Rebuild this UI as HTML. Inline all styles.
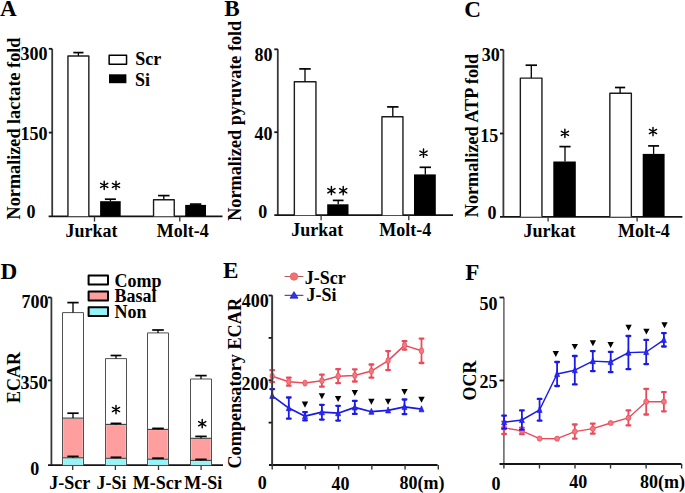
<!DOCTYPE html>
<html><head><meta charset="utf-8"><style>
html,body{margin:0;padding:0;background:#fff;width:685px;height:493px;overflow:hidden}
svg{display:block}
text{font-family:"Liberation Serif",serif;font-weight:bold;fill:#000}
</style></head><body>
<svg width="685" height="493" viewBox="0 0 685 493">
<rect x="0" y="0" width="685" height="493" fill="#fff"/>
<text x="0" y="15.5" font-size="23.2" text-anchor="start" >A</text>
<line x1="52.2" y1="48.8" x2="52.2" y2="216.3" stroke="#383838" stroke-width="1.8"/>
<line x1="48.6" y1="216.3" x2="222.5" y2="216.3" stroke="#141414" stroke-width="1.8"/>
<line x1="48.8" y1="48.8" x2="52.2" y2="48.8" stroke="#141414" stroke-width="1.8"/>
<line x1="48.8" y1="132.6" x2="52.2" y2="132.6" stroke="#141414" stroke-width="1.8"/>
<line x1="94.5" y1="216.3" x2="94.5" y2="221.5" stroke="#333" stroke-width="1.3"/>
<line x1="179.8" y1="216.3" x2="179.8" y2="221.5" stroke="#333" stroke-width="1.3"/>
<text x="47.6" y="59.6" font-size="18" text-anchor="end" >300</text>
<text x="47.6" y="140.3" font-size="18" text-anchor="end" >150</text>
<text x="35.4" y="218.0" font-size="18" text-anchor="end" >0</text>
<text transform="translate(20.3,219.4) rotate(-90)" font-size="18.2" text-anchor="start">Normalized lactate fold</text>
<path d="M67.94999999999999,216.3 V56.0 H88.85000000000001 V216.3" fill="#fff" stroke="#1c1c1c" stroke-width="1.4" stroke-linejoin="round"/>
<line x1="78.4" y1="52.6" x2="78.4" y2="55.8" stroke="#000" stroke-width="1.3"/>
<line x1="73.30000000000001" y1="52.6" x2="83.5" y2="52.6" stroke="#000" stroke-width="1.7"/>
<rect x="100.1" y="201.2" width="20.60000000000001" height="15.100000000000023" fill="#000" stroke="#000" stroke-width="0" stroke-linejoin="round"/>
<line x1="110.4" y1="199.2" x2="110.4" y2="201.2" stroke="#000" stroke-width="1.3"/>
<line x1="104.9" y1="199.2" x2="115.9" y2="199.2" stroke="#000" stroke-width="1.7"/>
<path d="M153.54999999999998,216.3 V199.7 H174.25 V216.3" fill="#fff" stroke="#1c1c1c" stroke-width="1.4" stroke-linejoin="round"/>
<line x1="163.8" y1="195.6" x2="163.8" y2="199.5" stroke="#000" stroke-width="1.3"/>
<line x1="158.05" y1="195.6" x2="169.55" y2="195.6" stroke="#000" stroke-width="1.7"/>
<rect x="185.2" y="204.9" width="20.80000000000001" height="11.400000000000006" fill="#000" stroke="#000" stroke-width="0" stroke-linejoin="round"/>
<line x1="195.6" y1="204.1" x2="195.6" y2="204.9" stroke="#000" stroke-width="1.3"/>
<line x1="189.9" y1="204.1" x2="201.29999999999998" y2="204.1" stroke="#000" stroke-width="1.7"/>
<path d="M104.20,181.25L104.20,189.55M100.61,183.33L107.79,187.47M100.61,187.47L107.79,183.33" stroke="#000" stroke-width="1.45" stroke-linecap="round" fill="none"/>
<path d="M116.00,181.25L116.00,189.55M112.41,183.33L119.59,187.47M112.41,187.47L119.59,183.33" stroke="#000" stroke-width="1.45" stroke-linecap="round" fill="none"/>
<rect x="109.15" y="55.35" width="17.39999999999999" height="8.899999999999999" fill="#fff" stroke="#000" stroke-width="1.5" stroke-linejoin="round"/>
<rect x="109" y="74.3" width="17.400000000000006" height="8.900000000000006" fill="#000" stroke="#000" stroke-width="0" stroke-linejoin="round"/>
<text x="135.2" y="65" font-size="18" text-anchor="start" >Scr</text>
<text x="135.0" y="85.7" font-size="18" text-anchor="start" >Si</text>
<text x="65.4" y="236.6" font-size="18" text-anchor="start" >Jurkat</text>
<text x="156.8" y="236.6" font-size="18" text-anchor="start" >Molt-4</text>
<text x="224.2" y="15.5" font-size="23.2" text-anchor="start" >B</text>
<line x1="277.8" y1="49.3" x2="277.8" y2="215.2" stroke="#383838" stroke-width="1.8"/>
<line x1="274.3" y1="215.2" x2="453" y2="215.2" stroke="#141414" stroke-width="1.8"/>
<line x1="274.3" y1="49.3" x2="277.8" y2="49.3" stroke="#141414" stroke-width="1.8"/>
<line x1="274.3" y1="132.2" x2="277.8" y2="132.2" stroke="#141414" stroke-width="1.8"/>
<line x1="321.1" y1="215.2" x2="321.1" y2="220.2" stroke="#333" stroke-width="1.3"/>
<line x1="408.8" y1="215.2" x2="408.8" y2="220.2" stroke="#333" stroke-width="1.3"/>
<text x="272.4" y="60.8" font-size="18" text-anchor="end" >80</text>
<text x="272.4" y="140.0" font-size="18" text-anchor="end" >40</text>
<text x="267.2" y="218.0" font-size="18" text-anchor="end" >0</text>
<text transform="translate(240.8,220.8) rotate(-90)" font-size="18.2" text-anchor="start">Normalized pyruvate fold</text>
<path d="M294.35,215.2 V81.7 H315.95 V215.2" fill="#fff" stroke="#1c1c1c" stroke-width="1.4" stroke-linejoin="round"/>
<line x1="305.0" y1="68.9" x2="305.0" y2="81.5" stroke="#000" stroke-width="1.3"/>
<line x1="299.25" y1="68.9" x2="310.75" y2="68.9" stroke="#000" stroke-width="1.7"/>
<rect x="327.2" y="204.3" width="21.30000000000001" height="10.899999999999977" fill="#000" stroke="#000" stroke-width="0" stroke-linejoin="round"/>
<line x1="338.2" y1="200.4" x2="338.2" y2="204.3" stroke="#000" stroke-width="1.3"/>
<line x1="332.84999999999997" y1="200.4" x2="343.55" y2="200.4" stroke="#000" stroke-width="1.7"/>
<path d="M381.95000000000005,215.2 V116.8 H402.95 V215.2" fill="#fff" stroke="#1c1c1c" stroke-width="1.4" stroke-linejoin="round"/>
<line x1="392.8" y1="106.9" x2="392.8" y2="116.6" stroke="#000" stroke-width="1.3"/>
<line x1="387.1" y1="106.9" x2="398.5" y2="106.9" stroke="#000" stroke-width="1.7"/>
<rect x="414.0" y="174.4" width="21.80000000000001" height="40.79999999999998" fill="#000" stroke="#000" stroke-width="0" stroke-linejoin="round"/>
<line x1="425.3" y1="167.3" x2="425.3" y2="174.4" stroke="#000" stroke-width="1.3"/>
<line x1="419.6" y1="167.3" x2="431.0" y2="167.3" stroke="#000" stroke-width="1.7"/>
<path d="M331.40,186.55L331.40,194.85M327.81,188.62L334.99,192.77M327.81,192.77L334.99,188.62" stroke="#000" stroke-width="1.45" stroke-linecap="round" fill="none"/>
<path d="M343.20,186.55L343.20,194.85M339.61,188.62L346.79,192.77M339.61,192.77L346.79,188.62" stroke="#000" stroke-width="1.45" stroke-linecap="round" fill="none"/>
<path d="M423.50,149.05L423.50,157.35M419.91,151.12L427.09,155.27M419.91,155.27L427.09,151.12" stroke="#000" stroke-width="1.45" stroke-linecap="round" fill="none"/>
<text x="291.3" y="236.2" font-size="18" text-anchor="start" >Jurkat</text>
<text x="379.3" y="236.2" font-size="18" text-anchor="start" >Molt-4</text>
<text x="464.3" y="17.0" font-size="23.2" text-anchor="start" >C</text>
<line x1="503.4" y1="49.8" x2="503.4" y2="216.8" stroke="#383838" stroke-width="1.8"/>
<line x1="500.0" y1="216.8" x2="682.4" y2="216.8" stroke="#141414" stroke-width="1.8"/>
<line x1="500.0" y1="49.8" x2="503.4" y2="49.8" stroke="#141414" stroke-width="1.8"/>
<line x1="500.0" y1="133.5" x2="503.4" y2="133.5" stroke="#141414" stroke-width="1.8"/>
<line x1="548.1" y1="216.8" x2="548.1" y2="221.5" stroke="#333" stroke-width="1.3"/>
<line x1="637.1" y1="216.8" x2="637.1" y2="221.5" stroke="#333" stroke-width="1.3"/>
<text x="499.8" y="61.0" font-size="18" text-anchor="end" >30</text>
<text x="498.2" y="142.0" font-size="18" text-anchor="end" >15</text>
<text x="496.5" y="219.0" font-size="18" text-anchor="end" >0</text>
<text transform="translate(477.8,217.2) rotate(-90)" font-size="18.2" text-anchor="start">Normalized ATP fold</text>
<path d="M520.35,216.8 V78.10000000000001 H541.9499999999999 V216.8" fill="#fff" stroke="#1c1c1c" stroke-width="1.4" stroke-linejoin="round"/>
<line x1="531.3" y1="65.2" x2="531.3" y2="77.9" stroke="#000" stroke-width="1.3"/>
<line x1="525.5999999999999" y1="65.2" x2="537.0" y2="65.2" stroke="#000" stroke-width="1.7"/>
<rect x="553.3" y="161.5" width="22.5" height="55.30000000000001" fill="#000" stroke="#000" stroke-width="0" stroke-linejoin="round"/>
<line x1="565.0" y1="146.6" x2="565.0" y2="161.5" stroke="#000" stroke-width="1.3"/>
<line x1="559.4" y1="146.6" x2="570.6" y2="146.6" stroke="#000" stroke-width="1.7"/>
<path d="M609.85,216.8 V93.2 H631.35 V216.8" fill="#fff" stroke="#1c1c1c" stroke-width="1.4" stroke-linejoin="round"/>
<line x1="620.1" y1="87.5" x2="620.1" y2="93.0" stroke="#000" stroke-width="1.3"/>
<line x1="615.0" y1="87.5" x2="625.2" y2="87.5" stroke="#000" stroke-width="1.7"/>
<rect x="642.7" y="153.9" width="21.899999999999977" height="62.900000000000006" fill="#000" stroke="#000" stroke-width="0" stroke-linejoin="round"/>
<line x1="653.6" y1="145.9" x2="653.6" y2="153.9" stroke="#000" stroke-width="1.3"/>
<line x1="648.15" y1="145.9" x2="659.0500000000001" y2="145.9" stroke="#000" stroke-width="1.7"/>
<path d="M564.90,129.25L564.90,137.55M561.31,131.33L568.49,135.47M561.31,135.47L568.49,131.33" stroke="#000" stroke-width="1.45" stroke-linecap="round" fill="none"/>
<path d="M653.00,127.35L653.00,135.65M649.41,129.43L656.59,133.57M649.41,133.57L656.59,129.43" stroke="#000" stroke-width="1.45" stroke-linecap="round" fill="none"/>
<text x="523.5" y="236.6" font-size="18" text-anchor="start" >Jurkat</text>
<text x="617.9" y="236.6" font-size="18" text-anchor="start" >Molt-4</text>
<text x="0.4" y="279.2" font-size="23.2" text-anchor="start" >D</text>
<line x1="51.4" y1="297.5" x2="51.4" y2="465.2" stroke="#383838" stroke-width="1.8"/>
<line x1="48.0" y1="465.2" x2="223.0" y2="465.2" stroke="#141414" stroke-width="1.8"/>
<line x1="48.0" y1="297.5" x2="51.4" y2="297.5" stroke="#141414" stroke-width="1.8"/>
<line x1="48.0" y1="380.4" x2="51.4" y2="380.4" stroke="#141414" stroke-width="1.8"/>
<line x1="72.7" y1="465.2" x2="72.7" y2="470.0" stroke="#333" stroke-width="1.3"/>
<line x1="115.4" y1="465.2" x2="115.4" y2="470.0" stroke="#333" stroke-width="1.3"/>
<line x1="158.5" y1="465.2" x2="158.5" y2="470.0" stroke="#333" stroke-width="1.3"/>
<line x1="201.1" y1="465.2" x2="201.1" y2="470.0" stroke="#333" stroke-width="1.3"/>
<text x="48.4" y="308.4" font-size="18" text-anchor="end" >700</text>
<text x="47.5" y="389.2" font-size="18" text-anchor="end" >350</text>
<text x="39.2" y="474.8" font-size="18" text-anchor="end" >0</text>
<text transform="translate(20.0,403.1) rotate(-90)" font-size="18" text-anchor="start">ECAR</text>
<rect x="62.5" y="312.6" width="21.0" height="152.59999999999997" fill="#fff" stroke="#505050" stroke-width="1" stroke-linejoin="round"/>
<rect x="63.2" y="418.8" width="19.6" height="38.499999999999986" fill="#ff9e9e"/>
<rect x="63.2" y="458.5" width="19.6" height="6.199999999999977" fill="#94f5f9"/>
<line x1="62.5" y1="418.1" x2="83.5" y2="418.1" stroke="#3a3a3a" stroke-width="1.1"/>
<line x1="62.5" y1="457.8" x2="83.5" y2="457.8" stroke="#3a3a3a" stroke-width="1.1"/>
<line x1="73.0" y1="302.6" x2="73.0" y2="312.6" stroke="#000" stroke-width="1.3"/>
<line x1="67.35" y1="302.6" x2="78.65" y2="302.6" stroke="#000" stroke-width="1.7"/>
<line x1="73.0" y1="413.2" x2="73.0" y2="418.1" stroke="#000" stroke-width="1.3"/>
<line x1="67.35" y1="413.2" x2="78.65" y2="413.2" stroke="#000" stroke-width="1.7"/>
<line x1="73.0" y1="456.4" x2="73.0" y2="457.8" stroke="#000" stroke-width="1.3"/>
<line x1="67.35" y1="456.4" x2="78.65" y2="456.4" stroke="#000" stroke-width="1.7"/>
<rect x="105.5" y="358.6" width="21.0" height="106.59999999999997" fill="#fff" stroke="#505050" stroke-width="1" stroke-linejoin="round"/>
<rect x="106.2" y="425.09999999999997" width="19.6" height="32.70000000000003" fill="#ff9e9e"/>
<rect x="106.2" y="459.0" width="19.6" height="5.699999999999977" fill="#94f5f9"/>
<line x1="105.5" y1="424.4" x2="126.5" y2="424.4" stroke="#3a3a3a" stroke-width="1.1"/>
<line x1="105.5" y1="458.3" x2="126.5" y2="458.3" stroke="#3a3a3a" stroke-width="1.1"/>
<line x1="116.0" y1="355.5" x2="116.0" y2="358.6" stroke="#000" stroke-width="1.3"/>
<line x1="110.6" y1="355.5" x2="121.4" y2="355.5" stroke="#000" stroke-width="1.7"/>
<line x1="116.0" y1="423.4" x2="116.0" y2="424.4" stroke="#000" stroke-width="1.3"/>
<line x1="110.6" y1="423.4" x2="121.4" y2="423.4" stroke="#000" stroke-width="1.7"/>
<line x1="116.0" y1="457.3" x2="116.0" y2="458.3" stroke="#000" stroke-width="1.3"/>
<line x1="110.6" y1="457.3" x2="121.4" y2="457.3" stroke="#000" stroke-width="1.7"/>
<rect x="147.5" y="332.9" width="21.0" height="132.3" fill="#fff" stroke="#505050" stroke-width="1" stroke-linejoin="round"/>
<rect x="148.2" y="430.09999999999997" width="19.6" height="28.600000000000012" fill="#ff9e9e"/>
<rect x="148.2" y="459.9" width="19.6" height="4.8" fill="#94f5f9"/>
<line x1="147.5" y1="429.4" x2="168.5" y2="429.4" stroke="#3a3a3a" stroke-width="1.1"/>
<line x1="147.5" y1="459.2" x2="168.5" y2="459.2" stroke="#3a3a3a" stroke-width="1.1"/>
<line x1="158.0" y1="330.0" x2="158.0" y2="332.9" stroke="#000" stroke-width="1.3"/>
<line x1="152.2" y1="330.0" x2="163.8" y2="330.0" stroke="#000" stroke-width="1.7"/>
<line x1="158.0" y1="428.4" x2="158.0" y2="429.4" stroke="#000" stroke-width="1.3"/>
<line x1="152.2" y1="428.4" x2="163.8" y2="428.4" stroke="#000" stroke-width="1.7"/>
<line x1="158.0" y1="458.2" x2="158.0" y2="459.2" stroke="#000" stroke-width="1.3"/>
<line x1="152.2" y1="458.2" x2="163.8" y2="458.2" stroke="#000" stroke-width="1.7"/>
<rect x="190.5" y="379.0" width="21.0" height="86.19999999999999" fill="#fff" stroke="#505050" stroke-width="1" stroke-linejoin="round"/>
<rect x="191.2" y="439.0" width="19.6" height="20.899999999999967" fill="#ff9e9e"/>
<rect x="191.2" y="461.09999999999997" width="19.6" height="3.600000000000011" fill="#94f5f9"/>
<line x1="190.5" y1="438.3" x2="211.5" y2="438.3" stroke="#3a3a3a" stroke-width="1.1"/>
<line x1="190.5" y1="460.4" x2="211.5" y2="460.4" stroke="#3a3a3a" stroke-width="1.1"/>
<line x1="201.0" y1="375.6" x2="201.0" y2="379.0" stroke="#000" stroke-width="1.3"/>
<line x1="195.3" y1="375.6" x2="206.7" y2="375.6" stroke="#000" stroke-width="1.7"/>
<line x1="201.0" y1="436.4" x2="201.0" y2="438.3" stroke="#000" stroke-width="1.3"/>
<line x1="195.3" y1="436.4" x2="206.7" y2="436.4" stroke="#000" stroke-width="1.7"/>
<line x1="201.0" y1="459.4" x2="201.0" y2="460.4" stroke="#000" stroke-width="1.3"/>
<line x1="195.3" y1="459.4" x2="206.7" y2="459.4" stroke="#000" stroke-width="1.7"/>
<path d="M116.00,405.35L116.00,413.65M112.41,407.43L119.59,411.57M112.41,411.57L119.59,407.43" stroke="#000" stroke-width="1.45" stroke-linecap="round" fill="none"/>
<path d="M202.20,419.55L202.20,427.85M198.61,421.62L205.79,425.77M198.61,425.77L205.79,421.62" stroke="#000" stroke-width="1.45" stroke-linecap="round" fill="none"/>
<rect x="88.6" y="275.5" width="19.400000000000006" height="8.9" fill="#fff" stroke="#000" stroke-width="2" stroke-linejoin="round"/>
<rect x="88.6" y="291.6" width="19.400000000000006" height="8.9" fill="#ff9e9e" stroke="#000" stroke-width="2" stroke-linejoin="round"/>
<rect x="88.6" y="307.2" width="19.400000000000006" height="8.9" fill="#94f5f9" stroke="#000" stroke-width="2" stroke-linejoin="round"/>
<text x="114.6" y="287.0" font-size="18" text-anchor="start" >Comp</text>
<text x="114.6" y="302.1" font-size="18" text-anchor="start" >Basal</text>
<text x="114.6" y="317.8" font-size="18" text-anchor="start" >Non</text>
<text x="49.3" y="488.6" font-size="18" text-anchor="start" >J-Scr</text>
<text x="96.6" y="489.2" font-size="18" text-anchor="start" >J-Si</text>
<text x="132.8" y="489.0" font-size="18" text-anchor="start" >M-Scr</text>
<text x="184.2" y="489.0" font-size="18" text-anchor="start" >M-Si</text>
<text x="223.0" y="277.6" font-size="23.2" text-anchor="start" >E</text>
<line x1="272.2" y1="295.5" x2="272.2" y2="465.0" stroke="#383838" stroke-width="1.8"/>
<line x1="269.0" y1="465.0" x2="437.6" y2="465.0" stroke="#141414" stroke-width="1.8"/>
<line x1="268.6" y1="295.5" x2="272.2" y2="295.5" stroke="#141414" stroke-width="1.8"/>
<line x1="268.6" y1="337.875" x2="272.2" y2="337.875" stroke="#141414" stroke-width="1.8"/>
<line x1="268.6" y1="380.25" x2="272.2" y2="380.25" stroke="#141414" stroke-width="1.8"/>
<line x1="268.6" y1="422.625" x2="272.2" y2="422.625" stroke="#141414" stroke-width="1.8"/>
<line x1="305.41999999999996" y1="465.0" x2="305.41999999999996" y2="469.5" stroke="#333" stroke-width="1.4"/>
<line x1="338.64" y1="465.0" x2="338.64" y2="469.5" stroke="#333" stroke-width="1.4"/>
<line x1="371.86" y1="465.0" x2="371.86" y2="469.5" stroke="#333" stroke-width="1.4"/>
<line x1="405.08" y1="465.0" x2="405.08" y2="469.5" stroke="#333" stroke-width="1.4"/>
<line x1="438.29999999999995" y1="465.0" x2="438.29999999999995" y2="469.5" stroke="#333" stroke-width="1.4"/>
<line x1="272.2" y1="465.0" x2="272.2" y2="469.5" stroke="#333" stroke-width="1.4"/>
<text x="268.7" y="307.4" font-size="18" text-anchor="end" >400</text>
<text x="268.6" y="389.5" font-size="18" text-anchor="end" >200</text>
<text x="266.7" y="489.0" font-size="18" text-anchor="end" >0</text>
<text x="331.6" y="489.5" font-size="18" text-anchor="start" >40</text>
<text x="399.6" y="489.3" font-size="18" text-anchor="start" >80(m)</text>
<text transform="translate(240.7,468.6) rotate(-90)" font-size="18.24" text-anchor="start">Compensatory ECAR</text>
<polyline points="272.2,376.2 288.8,381.7 305.0,383.1 321.9,380.7 338.1,376.2 354.8,375.4 371.4,371.1 388.1,360.6 404.5,345.4 421.5,350.8" fill="none" stroke="#ea4b5a" stroke-width="1.5" stroke-linejoin="round"/>
<line x1="272.2" y1="370.2" x2="272.2" y2="382.2" stroke="#ea4b5a" stroke-width="1.8"/>
<path d="M270.34999999999997,370.2H274.05M270.34999999999997,382.2H274.05" stroke="#ea4b5a" stroke-width="2.3" stroke-linecap="round"/>
<ellipse cx="272.2" cy="376.2" rx="2.2" ry="3.1" fill="#f07a7e" stroke="#ea4b5a" stroke-width="0.7"/>
<line x1="288.8" y1="377.7" x2="288.8" y2="385.7" stroke="#ea4b5a" stroke-width="1.8"/>
<path d="M286.95,377.7H290.65000000000003M286.95,385.7H290.65000000000003" stroke="#ea4b5a" stroke-width="2.3" stroke-linecap="round"/>
<ellipse cx="288.8" cy="381.7" rx="2.2" ry="3.1" fill="#f07a7e" stroke="#ea4b5a" stroke-width="0.7"/>
<ellipse cx="305.0" cy="383.1" rx="2.2" ry="3.1" fill="#f07a7e" stroke="#ea4b5a" stroke-width="0.7"/>
<line x1="321.9" y1="374.7" x2="321.9" y2="386.7" stroke="#ea4b5a" stroke-width="1.8"/>
<path d="M320.04999999999995,374.7H323.75M320.04999999999995,386.7H323.75" stroke="#ea4b5a" stroke-width="2.3" stroke-linecap="round"/>
<ellipse cx="321.9" cy="380.7" rx="2.2" ry="3.1" fill="#f07a7e" stroke="#ea4b5a" stroke-width="0.7"/>
<line x1="338.1" y1="369.2" x2="338.1" y2="383.2" stroke="#ea4b5a" stroke-width="1.8"/>
<path d="M336.25,369.2H339.95000000000005M336.25,383.2H339.95000000000005" stroke="#ea4b5a" stroke-width="2.3" stroke-linecap="round"/>
<ellipse cx="338.1" cy="376.2" rx="2.2" ry="3.1" fill="#f07a7e" stroke="#ea4b5a" stroke-width="0.7"/>
<line x1="354.8" y1="369.29999999999995" x2="354.8" y2="381.5" stroke="#ea4b5a" stroke-width="1.8"/>
<path d="M352.95,369.29999999999995H356.65000000000003M352.95,381.5H356.65000000000003" stroke="#ea4b5a" stroke-width="2.3" stroke-linecap="round"/>
<ellipse cx="354.8" cy="375.4" rx="2.2" ry="3.1" fill="#f07a7e" stroke="#ea4b5a" stroke-width="0.7"/>
<line x1="371.4" y1="364.5" x2="371.4" y2="377.70000000000005" stroke="#ea4b5a" stroke-width="1.8"/>
<path d="M369.54999999999995,364.5H373.25M369.54999999999995,377.70000000000005H373.25" stroke="#ea4b5a" stroke-width="2.3" stroke-linecap="round"/>
<ellipse cx="371.4" cy="371.1" rx="2.2" ry="3.1" fill="#f07a7e" stroke="#ea4b5a" stroke-width="0.7"/>
<line x1="388.1" y1="351.1" x2="388.1" y2="370.1" stroke="#ea4b5a" stroke-width="1.8"/>
<path d="M386.25,351.1H389.95000000000005M386.25,370.1H389.95000000000005" stroke="#ea4b5a" stroke-width="2.3" stroke-linecap="round"/>
<ellipse cx="388.1" cy="360.6" rx="2.2" ry="3.1" fill="#f07a7e" stroke="#ea4b5a" stroke-width="0.7"/>
<line x1="404.5" y1="341.2" x2="404.5" y2="349.59999999999997" stroke="#ea4b5a" stroke-width="1.8"/>
<path d="M402.65,341.2H406.35M402.65,349.59999999999997H406.35" stroke="#ea4b5a" stroke-width="2.3" stroke-linecap="round"/>
<ellipse cx="404.5" cy="345.4" rx="2.2" ry="3.1" fill="#f07a7e" stroke="#ea4b5a" stroke-width="0.7"/>
<line x1="421.5" y1="338.6" x2="421.5" y2="363.0" stroke="#ea4b5a" stroke-width="1.8"/>
<path d="M419.65,338.6H423.35M419.65,363.0H423.35" stroke="#ea4b5a" stroke-width="2.3" stroke-linecap="round"/>
<ellipse cx="421.5" cy="350.8" rx="2.2" ry="3.1" fill="#f07a7e" stroke="#ea4b5a" stroke-width="0.7"/>
<polyline points="272.2,395.9 288.8,408.1 305.0,416.2 321.9,412.2 338.1,413.2 354.8,407.4 371.4,411.7 388.1,410.3 404.5,406.8 421.5,409.2" fill="none" stroke="#1a1ae6" stroke-width="1.7" stroke-linejoin="round"/>
<line x1="272.2" y1="389.2" x2="272.2" y2="395.9" stroke="#1a1ae6" stroke-width="1.8"/>
<path d="M270.34999999999997,389.2H274.05" stroke="#1a1ae6" stroke-width="2.3" stroke-linecap="round"/>
<path d="M272.2,392.5 L274.7,398.5 L269.7,398.5 Z" fill="#2a2af5" stroke="#1a1ae6" stroke-width="0.7"/>
<line x1="288.8" y1="397.5" x2="288.8" y2="418.70000000000005" stroke="#1a1ae6" stroke-width="1.8"/>
<path d="M286.95,397.5H290.65000000000003M286.95,418.70000000000005H290.65000000000003" stroke="#1a1ae6" stroke-width="2.3" stroke-linecap="round"/>
<path d="M288.8,404.70000000000005 L291.3,410.70000000000005 L286.3,410.70000000000005 Z" fill="#2a2af5" stroke="#1a1ae6" stroke-width="0.7"/>
<line x1="305.0" y1="412.09999999999997" x2="305.0" y2="420.3" stroke="#1a1ae6" stroke-width="1.8"/>
<path d="M303.15,412.09999999999997H306.85M303.15,420.3H306.85" stroke="#1a1ae6" stroke-width="2.3" stroke-linecap="round"/>
<path d="M305.0,412.8 L307.5,418.8 L302.5,418.8 Z" fill="#2a2af5" stroke="#1a1ae6" stroke-width="0.7"/>
<line x1="321.9" y1="404.8" x2="321.9" y2="419.59999999999997" stroke="#1a1ae6" stroke-width="1.8"/>
<path d="M320.04999999999995,404.8H323.75M320.04999999999995,419.59999999999997H323.75" stroke="#1a1ae6" stroke-width="2.3" stroke-linecap="round"/>
<path d="M321.9,408.8 L324.4,414.8 L319.4,414.8 Z" fill="#2a2af5" stroke="#1a1ae6" stroke-width="0.7"/>
<line x1="338.1" y1="405.8" x2="338.1" y2="420.59999999999997" stroke="#1a1ae6" stroke-width="1.8"/>
<path d="M336.25,405.8H339.95000000000005M336.25,420.59999999999997H339.95000000000005" stroke="#1a1ae6" stroke-width="2.3" stroke-linecap="round"/>
<path d="M338.1,409.8 L340.6,415.8 L335.6,415.8 Z" fill="#2a2af5" stroke="#1a1ae6" stroke-width="0.7"/>
<line x1="354.8" y1="400.9" x2="354.8" y2="413.9" stroke="#1a1ae6" stroke-width="1.8"/>
<path d="M352.95,400.9H356.65000000000003M352.95,413.9H356.65000000000003" stroke="#1a1ae6" stroke-width="2.3" stroke-linecap="round"/>
<path d="M354.8,404.0 L357.3,410.0 L352.3,410.0 Z" fill="#2a2af5" stroke="#1a1ae6" stroke-width="0.7"/>
<path d="M371.4,408.3 L373.9,414.3 L368.9,414.3 Z" fill="#2a2af5" stroke="#1a1ae6" stroke-width="0.7"/>
<path d="M388.1,406.90000000000003 L390.6,412.90000000000003 L385.6,412.90000000000003 Z" fill="#2a2af5" stroke="#1a1ae6" stroke-width="0.7"/>
<line x1="404.5" y1="399.5" x2="404.5" y2="414.1" stroke="#1a1ae6" stroke-width="1.8"/>
<path d="M402.65,399.5H406.35M402.65,414.1H406.35" stroke="#1a1ae6" stroke-width="2.3" stroke-linecap="round"/>
<path d="M404.5,403.40000000000003 L407.0,409.40000000000003 L402.0,409.40000000000003 Z" fill="#2a2af5" stroke="#1a1ae6" stroke-width="0.7"/>
<path d="M421.5,405.8 L424.0,411.8 L419.0,411.8 Z" fill="#2a2af5" stroke="#1a1ae6" stroke-width="0.7"/>
<line x1="272.2" y1="295.5" x2="272.2" y2="465.0" stroke="#3a3a3a" stroke-width="1.5"/>
<path d="M301.8,401.55 L308.2,401.55 L305.0,407.65000000000003 Z" fill="#000"/>
<path d="M318.7,393.25 L325.09999999999997,393.25 L321.9,399.35 Z" fill="#000"/>
<path d="M334.90000000000003,395.95 L341.3,395.95 L338.1,402.05 Z" fill="#000"/>
<path d="M351.6,389.95 L358.0,389.95 L354.8,396.05 Z" fill="#000"/>
<path d="M368.2,398.65 L374.59999999999997,398.65 L371.4,404.75 Z" fill="#000"/>
<path d="M384.90000000000003,398.65 L391.3,398.65 L388.1,404.75 Z" fill="#000"/>
<path d="M401.3,388.95 L407.7,388.95 L404.5,395.05 Z" fill="#000"/>
<path d="M418.3,396.65 L424.7,396.65 L421.5,402.75 Z" fill="#000"/>
<line x1="284.6" y1="276.5" x2="303.4" y2="276.5" stroke="#b05a5a" stroke-width="1.0"/>
<circle cx="294.0" cy="276.5" r="3.8" fill="#f27272" stroke="#e05a5a" stroke-width="0.6"/>
<line x1="284.6" y1="295.3" x2="303.4" y2="295.3" stroke="#2a2a90" stroke-width="1.0"/>
<path d="M294.0,291.6 L298.0,298.2 L290.0,298.2 Z" fill="#3232f2" stroke="#1a1ab0" stroke-width="0.7"/>
<text x="304.8" y="284.2" font-size="18" text-anchor="start" >J-Scr</text>
<text x="306.5" y="301.0" font-size="18" text-anchor="start" >J-Si</text>
<text x="465.2" y="279.7" font-size="23.2" text-anchor="start" >F</text>
<line x1="503.9" y1="297.4" x2="503.9" y2="464.0" stroke="#555" stroke-width="1.4"/>
<line x1="499.5" y1="464.0" x2="681.5" y2="464.0" stroke="#141414" stroke-width="1.8"/>
<line x1="499.5" y1="297.5" x2="503.9" y2="297.5" stroke="#141414" stroke-width="1.8"/>
<line x1="499.5" y1="380.5" x2="503.9" y2="380.5" stroke="#141414" stroke-width="1.8"/>
<line x1="503.9" y1="464.0" x2="503.9" y2="468.5" stroke="#333" stroke-width="1.4"/>
<line x1="539.4499999999999" y1="464.0" x2="539.4499999999999" y2="468.5" stroke="#333" stroke-width="1.4"/>
<line x1="575.0" y1="464.0" x2="575.0" y2="468.5" stroke="#333" stroke-width="1.4"/>
<line x1="610.55" y1="464.0" x2="610.55" y2="468.5" stroke="#333" stroke-width="1.4"/>
<line x1="646.1" y1="464.0" x2="646.1" y2="468.5" stroke="#333" stroke-width="1.4"/>
<line x1="681.65" y1="464.0" x2="681.65" y2="468.5" stroke="#333" stroke-width="1.4"/>
<text x="497.6" y="309.6" font-size="18" text-anchor="end" >50</text>
<text x="497.6" y="387.7" font-size="18" text-anchor="end" >25</text>
<text x="500.5" y="489.5" font-size="18" text-anchor="end" >0</text>
<text x="569.2" y="487.9" font-size="18" text-anchor="start" >40</text>
<text x="640.1" y="487.9" font-size="18" text-anchor="start" >80(m)</text>
<text transform="translate(475.6,400.5) rotate(-90)" font-size="18" text-anchor="start">OCR</text>
<polyline points="504.1,427.8 521.9,430.9 539.6,438.6 557.1,438.7 574.8,431.6 592.8,428.7 610.7,423.0 628.4,417.9 646.2,401.7 663.9,401.7" fill="none" stroke="#ea4b5a" stroke-width="1.35" stroke-linejoin="round"/>
<line x1="504.1" y1="421.6" x2="504.1" y2="434.0" stroke="#ea4b5a" stroke-width="1.8"/>
<path d="M502.25,421.6H505.95000000000005M502.25,434.0H505.95000000000005" stroke="#ea4b5a" stroke-width="2.3" stroke-linecap="round"/>
<ellipse cx="504.1" cy="427.8" rx="2.5" ry="2.6" fill="#f07a7e" stroke="#ea4b5a" stroke-width="0.7"/>
<line x1="521.9" y1="427.59999999999997" x2="521.9" y2="434.2" stroke="#ea4b5a" stroke-width="1.8"/>
<path d="M520.05,427.59999999999997H523.75M520.05,434.2H523.75" stroke="#ea4b5a" stroke-width="2.3" stroke-linecap="round"/>
<ellipse cx="521.9" cy="430.9" rx="2.5" ry="2.6" fill="#f07a7e" stroke="#ea4b5a" stroke-width="0.7"/>
<ellipse cx="539.6" cy="438.6" rx="2.5" ry="2.6" fill="#f07a7e" stroke="#ea4b5a" stroke-width="0.7"/>
<ellipse cx="557.1" cy="438.7" rx="2.5" ry="2.6" fill="#f07a7e" stroke="#ea4b5a" stroke-width="0.7"/>
<line x1="574.8" y1="424.5" x2="574.8" y2="438.70000000000005" stroke="#ea4b5a" stroke-width="1.8"/>
<path d="M572.9499999999999,424.5H576.65M572.9499999999999,438.70000000000005H576.65" stroke="#ea4b5a" stroke-width="2.3" stroke-linecap="round"/>
<ellipse cx="574.8" cy="431.6" rx="2.5" ry="2.6" fill="#f07a7e" stroke="#ea4b5a" stroke-width="0.7"/>
<line x1="592.8" y1="423.7" x2="592.8" y2="433.7" stroke="#ea4b5a" stroke-width="1.8"/>
<path d="M590.9499999999999,423.7H594.65M590.9499999999999,433.7H594.65" stroke="#ea4b5a" stroke-width="2.3" stroke-linecap="round"/>
<ellipse cx="592.8" cy="428.7" rx="2.5" ry="2.6" fill="#f07a7e" stroke="#ea4b5a" stroke-width="0.7"/>
<ellipse cx="610.7" cy="423.0" rx="2.5" ry="2.6" fill="#f07a7e" stroke="#ea4b5a" stroke-width="0.7"/>
<line x1="628.4" y1="410.4" x2="628.4" y2="425.4" stroke="#ea4b5a" stroke-width="1.8"/>
<path d="M626.55,410.4H630.25M626.55,425.4H630.25" stroke="#ea4b5a" stroke-width="2.3" stroke-linecap="round"/>
<ellipse cx="628.4" cy="417.9" rx="2.5" ry="2.6" fill="#f07a7e" stroke="#ea4b5a" stroke-width="0.7"/>
<line x1="646.2" y1="388.9" x2="646.2" y2="414.5" stroke="#ea4b5a" stroke-width="1.8"/>
<path d="M644.35,388.9H648.0500000000001M644.35,414.5H648.0500000000001" stroke="#ea4b5a" stroke-width="2.3" stroke-linecap="round"/>
<ellipse cx="646.2" cy="401.7" rx="2.5" ry="2.6" fill="#f07a7e" stroke="#ea4b5a" stroke-width="0.7"/>
<line x1="663.9" y1="392.09999999999997" x2="663.9" y2="411.3" stroke="#ea4b5a" stroke-width="1.8"/>
<path d="M662.05,392.09999999999997H665.75M662.05,411.3H665.75" stroke="#ea4b5a" stroke-width="2.3" stroke-linecap="round"/>
<ellipse cx="663.9" cy="401.7" rx="2.5" ry="2.6" fill="#f07a7e" stroke="#ea4b5a" stroke-width="0.7"/>
<polyline points="504.1,422.2 521.9,420.0 539.6,409.8 557.1,374.0 574.8,370.2 592.8,361.1 610.7,362.0 628.4,352.6 646.2,352.0 663.9,339.8" fill="none" stroke="#1a1ae6" stroke-width="1.45" stroke-linejoin="round"/>
<line x1="504.1" y1="415.7" x2="504.1" y2="428.7" stroke="#1a1ae6" stroke-width="1.8"/>
<path d="M502.25,415.7H505.95000000000005M502.25,428.7H505.95000000000005" stroke="#1a1ae6" stroke-width="2.3" stroke-linecap="round"/>
<path d="M504.1,418.8 L506.6,424.8 L501.6,424.8 Z" fill="#2a2af5" stroke="#1a1ae6" stroke-width="0.7"/>
<line x1="521.9" y1="410.4" x2="521.9" y2="429.6" stroke="#1a1ae6" stroke-width="1.8"/>
<path d="M520.05,410.4H523.75M520.05,429.6H523.75" stroke="#1a1ae6" stroke-width="2.3" stroke-linecap="round"/>
<path d="M521.9,416.6 L524.4,422.6 L519.4,422.6 Z" fill="#2a2af5" stroke="#1a1ae6" stroke-width="0.7"/>
<line x1="539.6" y1="398.90000000000003" x2="539.6" y2="420.7" stroke="#1a1ae6" stroke-width="1.8"/>
<path d="M537.75,398.90000000000003H541.45M537.75,420.7H541.45" stroke="#1a1ae6" stroke-width="2.3" stroke-linecap="round"/>
<path d="M539.6,406.40000000000003 L542.1,412.40000000000003 L537.1,412.40000000000003 Z" fill="#2a2af5" stroke="#1a1ae6" stroke-width="0.7"/>
<line x1="557.1" y1="362.0" x2="557.1" y2="386.0" stroke="#1a1ae6" stroke-width="1.8"/>
<path d="M555.25,362.0H558.95M555.25,386.0H558.95" stroke="#1a1ae6" stroke-width="2.3" stroke-linecap="round"/>
<path d="M557.1,370.6 L559.6,376.6 L554.6,376.6 Z" fill="#2a2af5" stroke="#1a1ae6" stroke-width="0.7"/>
<line x1="574.8" y1="356.0" x2="574.8" y2="384.4" stroke="#1a1ae6" stroke-width="1.8"/>
<path d="M572.9499999999999,356.0H576.65M572.9499999999999,384.4H576.65" stroke="#1a1ae6" stroke-width="2.3" stroke-linecap="round"/>
<path d="M574.8,366.8 L577.3,372.8 L572.3,372.8 Z" fill="#2a2af5" stroke="#1a1ae6" stroke-width="0.7"/>
<line x1="592.8" y1="351.1" x2="592.8" y2="371.1" stroke="#1a1ae6" stroke-width="1.8"/>
<path d="M590.9499999999999,351.1H594.65M590.9499999999999,371.1H594.65" stroke="#1a1ae6" stroke-width="2.3" stroke-linecap="round"/>
<path d="M592.8,357.70000000000005 L595.3,363.70000000000005 L590.3,363.70000000000005 Z" fill="#2a2af5" stroke="#1a1ae6" stroke-width="0.7"/>
<line x1="610.7" y1="351.9" x2="610.7" y2="372.1" stroke="#1a1ae6" stroke-width="1.8"/>
<path d="M608.85,351.9H612.5500000000001M608.85,372.1H612.5500000000001" stroke="#1a1ae6" stroke-width="2.3" stroke-linecap="round"/>
<path d="M610.7,358.6 L613.2,364.6 L608.2,364.6 Z" fill="#2a2af5" stroke="#1a1ae6" stroke-width="0.7"/>
<line x1="628.4" y1="336.0" x2="628.4" y2="369.20000000000005" stroke="#1a1ae6" stroke-width="1.8"/>
<path d="M626.55,336.0H630.25M626.55,369.20000000000005H630.25" stroke="#1a1ae6" stroke-width="2.3" stroke-linecap="round"/>
<path d="M628.4,349.20000000000005 L630.9,355.20000000000005 L625.9,355.20000000000005 Z" fill="#2a2af5" stroke="#1a1ae6" stroke-width="0.7"/>
<line x1="646.2" y1="339.9" x2="646.2" y2="364.1" stroke="#1a1ae6" stroke-width="1.8"/>
<path d="M644.35,339.9H648.0500000000001M644.35,364.1H648.0500000000001" stroke="#1a1ae6" stroke-width="2.3" stroke-linecap="round"/>
<path d="M646.2,348.6 L648.7,354.6 L643.7,354.6 Z" fill="#2a2af5" stroke="#1a1ae6" stroke-width="0.7"/>
<line x1="663.9" y1="333.1" x2="663.9" y2="346.5" stroke="#1a1ae6" stroke-width="1.8"/>
<path d="M662.05,333.1H665.75M662.05,346.5H665.75" stroke="#1a1ae6" stroke-width="2.3" stroke-linecap="round"/>
<path d="M663.9,336.40000000000003 L666.4,342.40000000000003 L661.4,342.40000000000003 Z" fill="#2a2af5" stroke="#1a1ae6" stroke-width="0.7"/>
<path d="M552.65,351.05 L558.9499999999999,351.05 L555.8,356.95 Z" fill="#000"/>
<path d="M571.65,343.95 L577.9499999999999,343.95 L574.8,349.84999999999997 Z" fill="#000"/>
<path d="M589.75,340.35 L596.05,340.35 L592.9,346.25 Z" fill="#000"/>
<path d="M607.45,342.05 L613.75,342.05 L610.6,347.95 Z" fill="#000"/>
<path d="M625.45,324.85 L631.75,324.85 L628.6,330.75 Z" fill="#000"/>
<path d="M643.25,328.65000000000003 L649.55,328.65000000000003 L646.4,334.55 Z" fill="#000"/>
<path d="M661.35,322.25 L667.65,322.25 L664.5,328.15 Z" fill="#000"/>
</svg>
</body></html>
